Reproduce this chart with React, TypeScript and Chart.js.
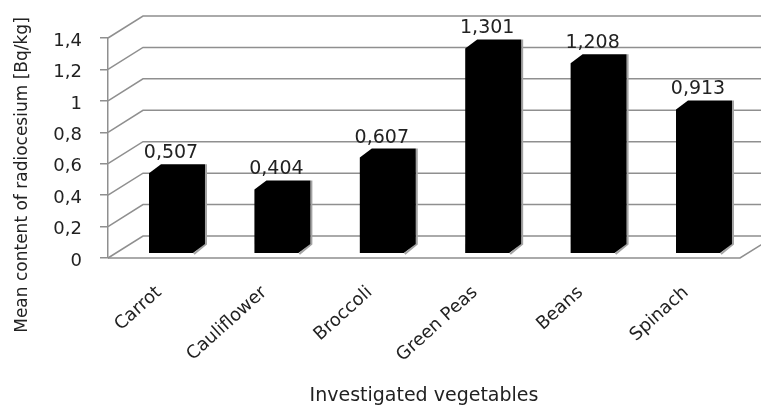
import React, { useEffect, useRef } from 'react';
import { Chart, registerables } from 'chart.js';

Chart.register(...registerables);

// Vegetables and their mean radiocesium content (Bq/kg)
const categories = ['Carrot', 'Cauliflower', 'Broccoli', 'Green Peas', 'Beans', 'Spinach'];
const meanContent = [0.507, 0.404, 0.607, 1.301, 1.208, 0.913];
const yTicks = [0, 0.2, 0.4, 0.6, 0.8, 1, 1.2, 1.4];

const yTitle = 'Mean content of radiocesium [Bq/kg]';
const xTitle = 'Investigated vegetables';

// Styling for the pseudo-3D box look
const FONT = 'DejaVu Sans';
const TEXT = '#222222';
const GRID = '#8f8f8f';
const WALL_DX = 35; // depth of the side wall / floor (x)
const WALL_DY = 22; // depth of the side wall / floor (y)
const BEVEL_X = 12; // column depth (x)
const BEVEL_Y = 9; // column depth (y)

const commaNum = (v: number) => String(+v.toFixed(3)).replace('.', ',');

const wallsPlugin = {
  id: 'walls3d',
  beforeDatasetsDraw(chart: any) {
    const { ctx, chartArea, scales } = chart;
    const y = scales.y;
    const left = chartArea.left;
    const right = chartArea.right;
    ctx.save();
    ctx.strokeStyle = GRID;
    ctx.lineWidth = 1.5;
    // back wall gridlines joined to the front axis through the side wall
    yTicks.forEach((v) => {
      const py = y.getPixelForValue(v);
      ctx.beginPath();
      ctx.moveTo(left, py);
      ctx.lineTo(left + WALL_DX, py - WALL_DY);
      ctx.lineTo(chart.width + 10, py - WALL_DY);
      ctx.stroke();
    });
    // front edge of the floor
    const p0 = y.getPixelForValue(0);
    ctx.beginPath();
    ctx.moveTo(left, p0);
    ctx.lineTo(right, p0);
    ctx.lineTo(right + WALL_DX, p0 - WALL_DY);
    ctx.stroke();
    ctx.restore();
  },
  afterDatasetsDraw(chart: any) {
    const { ctx } = chart;
    const meta = chart.getDatasetMeta(0);
    ctx.save();
    meta.data.forEach((bar: any, i: number) => {
      const { x, y: top, base, width } = bar.getProps(['x', 'y', 'base', 'width'], true);
      const x0 = x - width / 2;
      const x1 = x + width / 2;
      // shaded edge on the right side
      ctx.beginPath();
      ctx.moveTo(x1 + 1, top);
      ctx.lineTo(x1 + 1, base);
      ctx.lineTo(x1 - BEVEL_X + 1, base + BEVEL_Y + 1);
      ctx.strokeStyle = '#a3a3a3';
      ctx.lineWidth = 2;
      ctx.stroke();
      // the column
      ctx.beginPath();
      ctx.moveTo(x0, top + BEVEL_Y);
      ctx.lineTo(x0 + BEVEL_X, top);
      ctx.lineTo(x1, top);
      ctx.lineTo(x1, base);
      ctx.lineTo(x1 - BEVEL_X, base + BEVEL_Y);
      ctx.lineTo(x0, base + BEVEL_Y);
      ctx.closePath();
      ctx.fillStyle = '#000000';
      ctx.fill();
      // value label
      ctx.font = `19px "${FONT}"`;
      ctx.fillStyle = TEXT;
      ctx.textAlign = 'center';
      ctx.textBaseline = 'middle';
      ctx.fillText(commaNum(meanContent[i]), x - BEVEL_X / 2, top - 11);
    });
    ctx.restore();
  },
  afterDraw(chart: any) {
    const { ctx } = chart;
    ctx.save();
    ctx.translate(23, 175);
    ctx.rotate(-Math.PI / 2);
    ctx.font = `17px "${FONT}"`;
    ctx.fillStyle = TEXT;
    ctx.textAlign = 'center';
    ctx.textBaseline = 'middle';
    ctx.fillText(yTitle, 0, 0);
    ctx.restore();
  },
};

export default function App() {
  const ref = useRef<HTMLCanvasElement>(null);

  useEffect(() => {
    if (!ref.current) return;
    const chart = new Chart(ref.current, {
      type: 'bar',
      data: {
        datasets: [
          {
            label: 'Mean content',
            data: meanContent.map((v, i) => ({ x: i, y: v })),
            xAxisID: 'x',
            yAxisID: 'yb',
            backgroundColor: 'rgba(0,0,0,0)',
            borderWidth: 0,
            categoryPercentage: 1,
            barPercentage: 0.531,
          },
        ],
      },
      options: {
        responsive: false,
        devicePixelRatio: 1,
        animation: false,
        events: [],
        layout: { padding: { left: 0, top: 38, right: 21, bottom: 0 } },
        plugins: {
          legend: { display: false },
          tooltip: { enabled: false },
        },
        scales: {
          x: {
            type: 'linear',
            position: 'bottom',
            offset: false,
            min: -0.6546,
            max: 5.3416,
            afterBuildTicks: (s: any) => {
              s.ticks = categories.map((_, i) => ({ value: i }));
            },
            afterFit: (s: any) => {
              s.height = 147;
              s.paddingLeft = 0;
              s.paddingRight = 0;
            },
            grid: { display: false, drawTicks: false, offset: false },
            border: { display: false },
            ticks: {
              autoSkip: false,
              maxRotation: 42,
              minRotation: 42,
              padding: 24,
              labelOffset: -18,
              color: TEXT,
              font: { family: FONT, size: 18 },
              callback: (v: any) => categories[v as number] ?? '',
            },
            title: {
              display: true,
              text: xTitle,
              color: TEXT,
              font: { family: FONT, size: 19 },
              padding: { top: 0, bottom: -2 },
            },
          },
          y: {
            type: 'linear',
            position: 'left',
            min: 0,
            max: 1.4,
            afterBuildTicks: (s: any) => {
              s.ticks = yTicks.map((v) => ({ value: v }));
            },
            afterFit: (s: any) => {
              s.width = 108;
              s.paddingTop = 0;
              s.paddingBottom = 0;
            },
            grid: {
              drawOnChartArea: false,
              drawTicks: true,
              tickLength: 8,
              color: GRID,
              lineWidth: 1.5,
            },
            border: { display: true, color: GRID, width: 1.5 },
            ticks: {
              padding: 18,
              labelOffset: 3,
              color: TEXT,
              font: { family: FONT, size: 18 },
              callback: (v: any) => commaNum(Number(v)),
            },
          },
          yb: {
            type: 'linear',
            display: false,
            min: -0.0891,
            max: 1.3109,
          },
        },
      },
      plugins: [wallsPlugin],
    } as any);
    return () => chart.destroy();
  }, []);

  return (
    <div style={{ position: 'absolute', left: 0, top: 0, width: 761, height: 405, background: '#ffffff' }}>
      <canvas ref={ref} width={761} height={405} style={{ display: 'block' }} />
    </div>
  );
}
